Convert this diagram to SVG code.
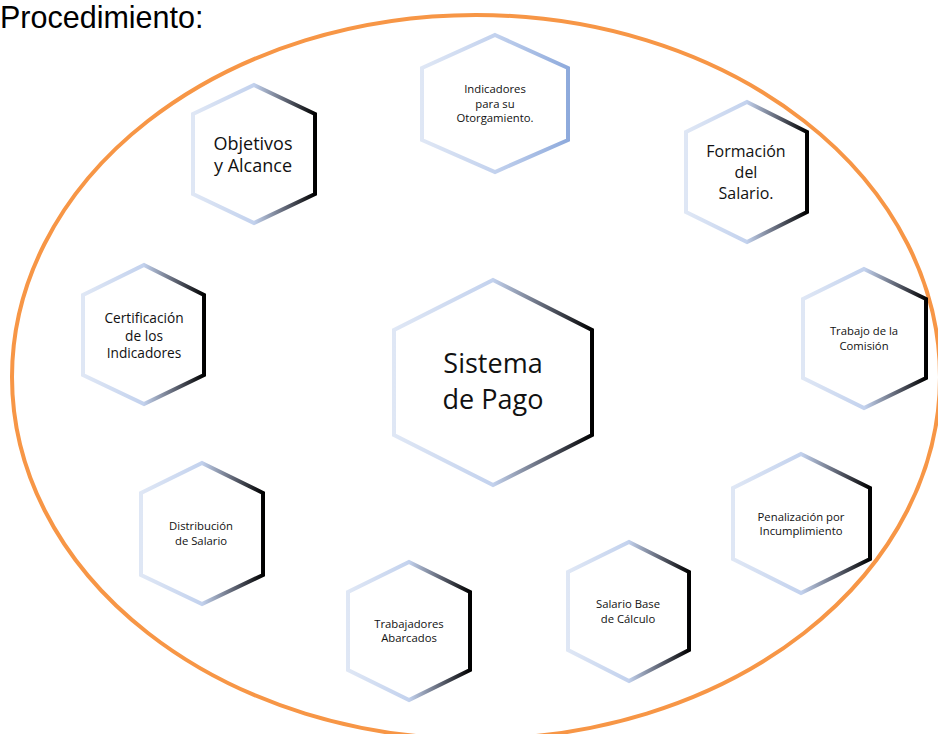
<svg xmlns="http://www.w3.org/2000/svg" width="938" height="734" viewBox="0 0 938 734">
  <defs>
    <linearGradient id="gDark" x1="0" y1="0" x2="1" y2="0">
      <stop offset="0" stop-color="#dfe7f5"/>
      <stop offset="0.5" stop-color="#c3d2ee"/>
      <stop offset="0.75" stop-color="#626878"/>
      <stop offset="1" stop-color="#000000"/>
    </linearGradient>
    <linearGradient id="gBlue" x1="0" y1="0" x2="1" y2="0">
      <stop offset="0" stop-color="#dfe7f5"/>
      <stop offset="0.5" stop-color="#c3d2ee"/>
      <stop offset="1" stop-color="#8eaadc"/>
    </linearGradient>
  </defs>
  <style>
    .hex { fill: #ffffff; stroke: url(#gDark); stroke-width: 4; stroke-linejoin: miter; }
    .hexb { fill: #ffffff; stroke: url(#gBlue); stroke-width: 4; stroke-linejoin: miter; }
    .t { font-family: "Open Sans", "Noto Sans", sans-serif; fill: #111111; text-anchor: middle; }
    .s { font-size: 11.3px; }
  </style>
  <rect width="938" height="734" fill="#ffffff"/>
  <text x="0" y="28" font-family="Liberation Sans, Arial, sans-serif" font-size="30.5" fill="#000000">Procedimiento:</text>
  <ellipse id="boundary" cx="476" cy="377" rx="464" ry="362" fill="none" stroke="#f79646" stroke-width="4"/>

  <g id="sistema">
    <polygon class="hex" points="493,280 592,330 592,435 493,485 394,435 394,330"/>
    <text class="t" x="493" y="373" font-size="27">Sistema</text>
    <text class="t" x="493" y="409" font-size="27">de Pago</text>
  </g>
  <g id="indicadores">
    <polygon class="hexb" points="495,35 568,68 568,140 495,172 422,140 422,68"/>
    <text class="t s" x="495" y="93">Indicadores</text>
    <text class="t s" x="495" y="107.5">para su</text>
    <text class="t s" x="495" y="122">Otorgamiento.</text>
  </g>
  <g id="objetivos">
    <polygon class="hex" points="254,85 315,114 315,194 254,223 193,194 193,114"/>
    <text class="t" x="253" y="150" font-size="18">Objetivos</text>
    <text class="t" x="253" y="172" font-size="18">y Alcance</text>
  </g>
  <g id="formacion">
    <polygon class="hex" points="747,102 807,132 807,212 747,242 686,212 686,132"/>
    <text class="t" x="746" y="157" font-size="16">Formación</text>
    <text class="t" x="746" y="178" font-size="16">del</text>
    <text class="t" x="746" y="198.5" font-size="16">Salario.</text>
  </g>
  <g id="trabajo-comision">
    <polygon class="hex" points="864,269 926,299 926,378 864,408 803,378 803,299"/>
    <text class="t s" x="864" y="335">Trabajo de la</text>
    <text class="t s" x="864" y="350">Comisión</text>
  </g>
  <g id="certificacion">
    <polygon class="hex" points="144,265 204,295 204,375 144,404 83,375 83,295"/>
    <text class="t" x="144" y="323" font-size="13.7">Certificación</text>
    <text class="t" x="144" y="340.5" font-size="13.7">de los</text>
    <text class="t" x="144" y="358" font-size="13.7">Indicadores</text>
  </g>
  <g id="penalizacion">
    <polygon class="hex" points="801,454 870,488 870,559 801,593 733,559 733,488"/>
    <text class="t s" x="801" y="520.5">Penalización por</text>
    <text class="t s" x="801" y="535">Incumplimiento</text>
  </g>
  <g id="distribucion">
    <polygon class="hex" points="202,463 263,493 263,575 202,604 141,575 141,493"/>
    <text class="t s" x="201" y="530">Distribución</text>
    <text class="t s" x="201" y="544.5">de Salario</text>
  </g>
  <g id="trabajadores">
    <polygon class="hex" points="409,562 470,592 470,670 409,700 348,670 348,592"/>
    <text class="t s" x="409" y="627.5">Trabajadores</text>
    <text class="t s" x="409" y="642">Abarcados</text>
  </g>
  <g id="salario-base">
    <polygon class="hex" points="629,542 689,572 689,650 629,681 568,650 568,572"/>
    <text class="t s" x="628" y="607.5">Salario Base</text>
    <text class="t s" x="628" y="622.5">de Cálculo</text>
  </g>
</svg>
